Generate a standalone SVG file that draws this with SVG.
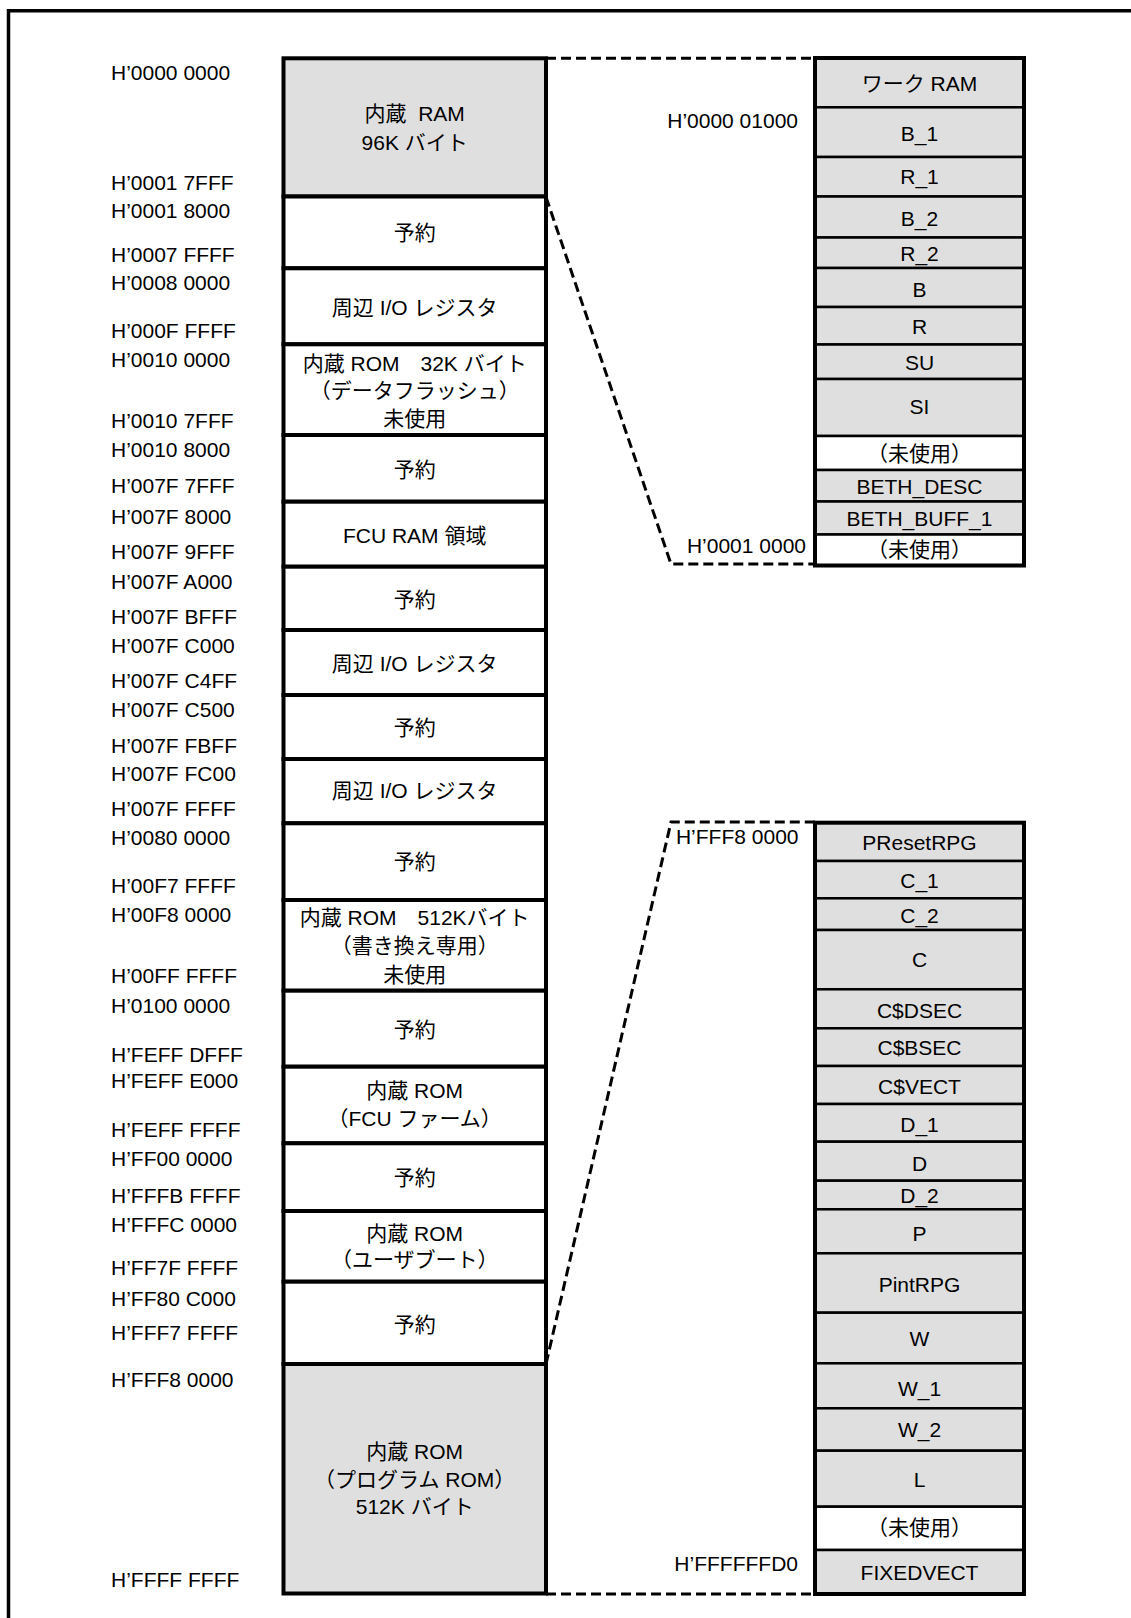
<svg xmlns="http://www.w3.org/2000/svg" width="1131" height="1618" viewBox="0 0 1131 1618">
<style>
.t{font-family:"Liberation Sans","Noto Sans CJK JP",sans-serif;font-size:21px;fill:#000}
.c{text-anchor:middle}
.e{text-anchor:end}
.g{fill:#dfdfdf}
.w{fill:#fff}
.lc{stroke:#000;stroke-width:4}
.rr{stroke:#000;stroke-width:2.5}
.ob{fill:none;stroke:#000;stroke-width:4}
.dash{fill:none;stroke:#000;stroke-width:3;stroke-dasharray:10 5}
</style>
<rect x="0" y="0" width="1131" height="1618" fill="#fff"/>
<path d="M8.5,1625 V10.8 H1140" fill="none" stroke="#000" stroke-width="3.5"/>

<g id="connectors">
<path class="dash" d="M546,58.3 H815"/>
<path class="dash" d="M546,197 L671,564 H815"/>
<path class="dash" d="M546,1364 L671,822 H815"/>
<path class="dash" d="M546,1594 H815"/>
</g>

<g id="address-labels" class="t">
<text x="111" y="80">H’0000 0000</text>
<text x="111" y="190">H’0001 7FFF</text>
<text x="111" y="218.3">H’0001 8000</text>
<text x="111" y="261.7">H’0007 FFFF</text>
<text x="111" y="290">H’0008 0000</text>
<text x="111" y="338.3">H’000F FFFF</text>
<text x="111" y="366.7">H’0010 0000</text>
<text x="111" y="428.3">H’0010 7FFF</text>
<text x="111" y="457.3">H’0010 8000</text>
<text x="111" y="492.7">H’007F 7FFF</text>
<text x="111" y="524">H’007F 8000</text>
<text x="111" y="559.3">H’007F 9FFF</text>
<text x="111" y="589.3">H’007F A000</text>
<text x="111" y="624">H’007F BFFF</text>
<text x="111" y="653.3">H’007F C000</text>
<text x="111" y="688.3">H’007F C4FF</text>
<text x="111" y="716.7">H’007F C500</text>
<text x="111" y="752.7">H’007F FBFF</text>
<text x="111" y="780.7">H’007F FC00</text>
<text x="111" y="815.5">H’007F FFFF</text>
<text x="111" y="845">H’0080 0000</text>
<text x="111" y="893.3">H’00F7 FFFF</text>
<text x="111" y="921.7">H’00F8 0000</text>
<text x="111" y="983.3">H’00FF FFFF</text>
<text x="111" y="1012.7">H’0100 0000</text>
<text x="111" y="1061.7">H’FEFF DFFF</text>
<text x="111" y="1088.3">H’FEFF E000</text>
<text x="111" y="1136.7">H’FEFF FFFF</text>
<text x="111" y="1166">H’FF00 0000</text>
<text x="111" y="1202.7">H’FFFB FFFF</text>
<text x="111" y="1232.3">H’FFFC 0000</text>
<text x="111" y="1275">H’FF7F FFFF</text>
<text x="111" y="1306">H’FF80 C000</text>
<text x="111" y="1340">H’FFF7 FFFF</text>
<text x="111" y="1386.7">H’FFF8 0000</text>
<text x="111" y="1586.7">H’FFFF FFFF</text>
<text class="e" x="798" y="127.7">H’0000 01000</text>
<text class="e" x="806" y="553">H’0001 0000</text>
<text class="e" x="798.5" y="844.3">H’FFF8 0000</text>
<text class="e" x="798" y="1570.7">H’FFFFFFD0</text>
</g>

<g id="memory-map">
<g id="m-ram"><rect class="lc g" x="283.5" y="58.3" width="262.5" height="138.2"/><text class="t c" x="414.7" y="121" xml:space="preserve">内蔵  RAM</text><text class="t c" x="414.7" y="149.5">96K バイト</text></g>
<g id="m-rsv1"><rect class="lc w" x="283.5" y="196.5" width="262.5" height="71.8"/><text class="t c" x="414.7" y="240">予約</text></g>
<g id="m-io1"><rect class="lc w" x="283.5" y="268.3" width="262.5" height="76"/><text class="t c" x="414.7" y="315">周辺 I/O レジスタ</text></g>
<g id="m-dflash"><rect class="lc w" x="283.5" y="344.3" width="262.5" height="90.7"/><text class="t c" x="414.7" y="371">内蔵 ROM　32K バイト</text><text class="t c" x="414.7" y="398.3">（データフラッシュ）</text><text class="t c" x="414.7" y="426">未使用</text></g>
<g id="m-rsv2"><rect class="lc w" x="283.5" y="435" width="262.5" height="66.7"/><text class="t c" x="414.7" y="477.3">予約</text></g>
<g id="m-fcuram"><rect class="lc w" x="283.5" y="501.7" width="262.5" height="65"/><text class="t c" x="414.7" y="542.7">FCU RAM 領域</text></g>
<g id="m-rsv3"><rect class="lc w" x="283.5" y="566.7" width="262.5" height="63.3"/><text class="t c" x="414.7" y="607.3">予約</text></g>
<g id="m-io2"><rect class="lc w" x="283.5" y="630" width="262.5" height="65"/><text class="t c" x="414.7" y="670.7">周辺 I/O レジスタ</text></g>
<g id="m-rsv4"><rect class="lc w" x="283.5" y="695" width="262.5" height="64"/><text class="t c" x="414.7" y="735">予約</text></g>
<g id="m-io3"><rect class="lc w" x="283.5" y="759" width="262.5" height="64.3"/><text class="t c" x="414.7" y="798.3">周辺 I/O レジスタ</text></g>
<g id="m-rsv5"><rect class="lc w" x="283.5" y="823.3" width="262.5" height="76.7"/><text class="t c" x="414.7" y="869.3">予約</text></g>
<g id="m-rom512w"><rect class="lc w" x="283.5" y="900" width="262.5" height="90.7"/><text class="t c" x="414.7" y="925">内蔵 ROM　512Kバイト</text><text class="t c" x="414.7" y="953.3">（書き換え専用）</text><text class="t c" x="414.7" y="981.7">未使用</text></g>
<g id="m-rsv6"><rect class="lc w" x="283.5" y="990.7" width="262.5" height="76"/><text class="t c" x="414.7" y="1036.7">予約</text></g>
<g id="m-fcufw"><rect class="lc w" x="283.5" y="1066.7" width="262.5" height="76.6"/><text class="t c" x="414.7" y="1098.3">内蔵 ROM</text><text class="t c" x="414.7" y="1126">（FCU ファーム）</text></g>
<g id="m-rsv7"><rect class="lc w" x="283.5" y="1143.3" width="262.5" height="67.7"/><text class="t c" x="414.7" y="1185">予約</text></g>
<g id="m-userboot"><rect class="lc w" x="283.5" y="1211" width="262.5" height="70.7"/><text class="t c" x="414.7" y="1240.7">内蔵 ROM</text><text class="t c" x="414.7" y="1266.7">（ユーザブート）</text></g>
<g id="m-rsv8"><rect class="lc w" x="283.5" y="1281.7" width="262.5" height="82.3"/><text class="t c" x="414.7" y="1331.7">予約</text></g>
<g id="m-progrom"><rect class="lc g" x="283.5" y="1364" width="262.5" height="229.5"/><text class="t c" x="414.7" y="1459">内蔵 ROM</text><text class="t c" x="414.7" y="1487.3">（プログラム ROM）</text><text class="t c" x="414.7" y="1514.3">512K バイト</text></g>
</g>

<g id="ram-detail">
<g id="r-workram"><rect class="rr g" x="815" y="58" width="209" height="49.3"/><text class="t c" x="919.5" y="90.6">ワーク RAM</text></g>
<g id="r-b1"><rect class="rr g" x="815" y="107.3" width="209" height="49.7"/><text class="t c" x="919.5" y="140.6">B_1</text></g>
<g id="r-r1"><rect class="rr g" x="815" y="157" width="209" height="39.5"/><text class="t c" x="919.5" y="184.2">R_1</text></g>
<g id="r-b2"><rect class="rr g" x="815" y="196.5" width="209" height="41"/><text class="t c" x="919.5" y="226.4">B_2</text></g>
<g id="r-r2"><rect class="rr g" x="815" y="237.5" width="209" height="30.5"/><text class="t c" x="919.5" y="260.8">R_2</text></g>
<g id="r-b"><rect class="rr g" x="815" y="268" width="209" height="39"/><text class="t c" x="919.5" y="296.7">B</text></g>
<g id="r-r"><rect class="rr g" x="815" y="307" width="209" height="37.5"/><text class="t c" x="919.5" y="333.7">R</text></g>
<g id="r-su"><rect class="rr g" x="815" y="344.5" width="209" height="34.5"/><text class="t c" x="919.5" y="370">SU</text></g>
<g id="r-si"><rect class="rr g" x="815" y="379" width="209" height="57"/><text class="t c" x="919.5" y="414.3">SI</text></g>
<g id="r-unused1"><rect class="rr w" x="815" y="436" width="209" height="34"/><text class="t c" x="919.5" y="460.6">（未使用）</text></g>
<g id="r-bethdesc"><rect class="rr g" x="815" y="470" width="209" height="31.5"/><text class="t c" x="919.5" y="493.9">BETH_DESC</text></g>
<g id="r-bethbuff"><rect class="rr g" x="815" y="501.5" width="209" height="33"/><text class="t c" x="919.5" y="526">BETH_BUFF_1</text></g>
<g id="r-unused2"><rect class="rr w" x="815" y="534.5" width="209" height="31"/><text class="t c" x="919.5" y="556.8">（未使用）</text></g>
<rect class="ob" x="815" y="58" width="209" height="507.5"/>
</g>

<g id="rom-detail">
<g id="p-presetrpg"><rect class="rr g" x="815" y="822.7" width="209" height="38.3"/><text class="t c" x="919.5" y="850">PResetRPG</text></g>
<g id="p-c1"><rect class="rr g" x="815" y="861" width="209" height="37.3"/><text class="t c" x="919.5" y="888.3">C_1</text></g>
<g id="p-c2"><rect class="rr g" x="815" y="898.3" width="209" height="31.7"/><text class="t c" x="919.5" y="923.3">C_2</text></g>
<g id="p-c"><rect class="rr g" x="815" y="930" width="209" height="59.3"/><text class="t c" x="919.5" y="967.3">C</text></g>
<g id="p-cdsec"><rect class="rr g" x="815" y="989.3" width="209" height="39"/><text class="t c" x="919.5" y="1018.3">C$DSEC</text></g>
<g id="p-cbsec"><rect class="rr g" x="815" y="1028.3" width="209" height="37.7"/><text class="t c" x="919.5" y="1055">C$BSEC</text></g>
<g id="p-cvect"><rect class="rr g" x="815" y="1066" width="209" height="38"/><text class="t c" x="919.5" y="1094">C$VECT</text></g>
<g id="p-d1"><rect class="rr g" x="815" y="1104" width="209" height="37.7"/><text class="t c" x="919.5" y="1131.7">D_1</text></g>
<g id="p-d"><rect class="rr g" x="815" y="1141.7" width="209" height="39"/><text class="t c" x="919.5" y="1170.7">D</text></g>
<g id="p-d2"><rect class="rr g" x="815" y="1180.7" width="209" height="28.6"/><text class="t c" x="919.5" y="1203.3">D_2</text></g>
<g id="p-p"><rect class="rr g" x="815" y="1209.3" width="209" height="44"/><text class="t c" x="919.5" y="1240.7">P</text></g>
<g id="p-pintrpg"><rect class="rr g" x="815" y="1253.3" width="209" height="59.4"/><text class="t c" x="919.5" y="1291.7">PintRPG</text></g>
<g id="p-w"><rect class="rr g" x="815" y="1312.7" width="209" height="50.6"/><text class="t c" x="919.5" y="1346">W</text></g>
<g id="p-w1"><rect class="rr g" x="815" y="1363.3" width="209" height="45"/><text class="t c" x="919.5" y="1396">W_1</text></g>
<g id="p-w2"><rect class="rr g" x="815" y="1408.3" width="209" height="42.4"/><text class="t c" x="919.5" y="1437.3">W_2</text></g>
<g id="p-l"><rect class="rr g" x="815" y="1450.7" width="209" height="56"/><text class="t c" x="919.5" y="1486.7">L</text></g>
<g id="p-unused"><rect class="rr w" x="815" y="1506.7" width="209" height="43.3"/><text class="t c" x="919.5" y="1535">（未使用）</text></g>
<g id="p-fixedvect"><rect class="rr g" x="815" y="1550" width="209" height="44"/><text class="t c" x="919.5" y="1580">FIXEDVECT</text></g>
<rect class="ob" x="815" y="822.7" width="209" height="771.3"/>
</g>
</svg>
